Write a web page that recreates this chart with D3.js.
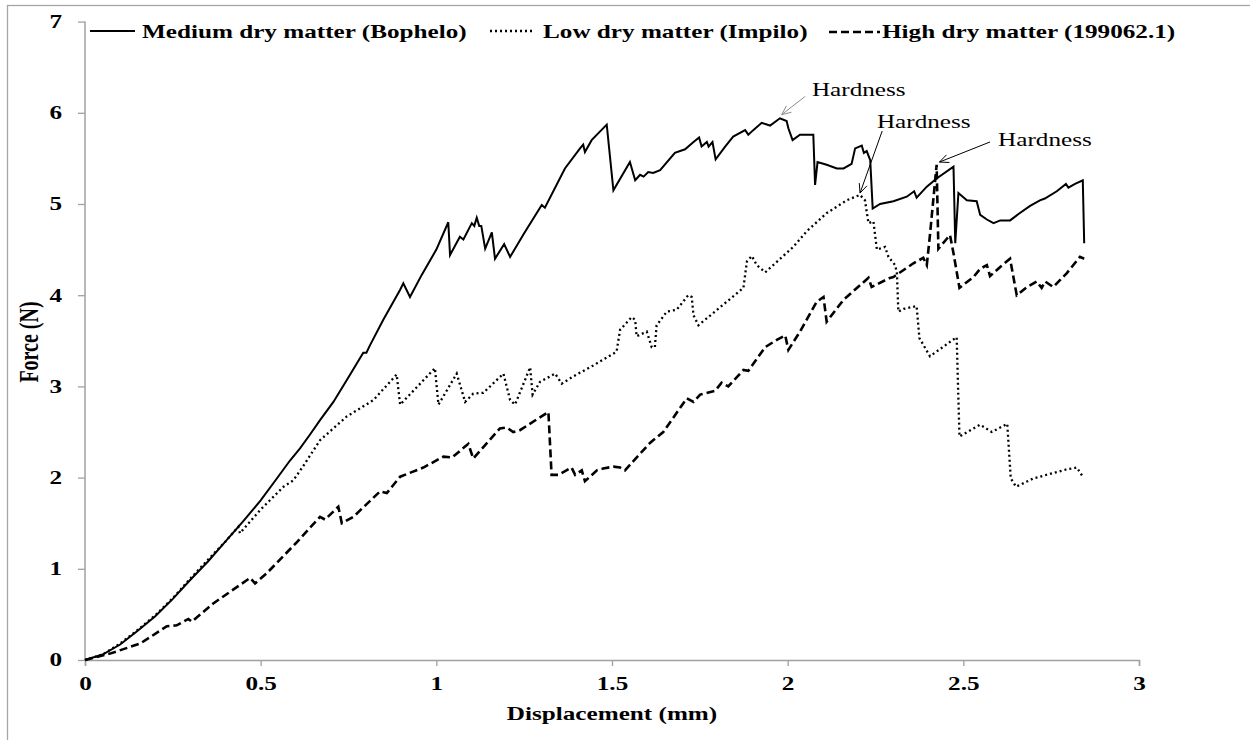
<!DOCTYPE html>
<html><head><meta charset="utf-8">
<script src="https://cdn.jsdelivr.net/npm/d3@7/dist/d3.min.js"></script>
<style>body{margin:0;background:#fff}svg{display:block}</style>
</head><body>
<script>
const seriesNames = ["Medium dry matter (Bophelo)", "Low dry matter (Impilo)", "High dry matter (199062.1)"];
const xTicks = [0, 0.5, 1, 1.5, 2, 2.5, 3];
const yTicks = [0, 1, 2, 3, 4, 5, 6, 7];
const xTickLabels = ["0", "0.5", "1", "1.5", "2", "2.5", "3"];
const yTickLabels = ["0", "1", "2", "3", "4", "5", "6", "7"];

const mediumX = [0,0.05,0.1,0.15,0.2,0.25,0.3,0.35,0.4,0.45,0.5,0.546,0.584,0.612,0.64,0.669,0.707,0.75,0.792,0.801,0.811,0.849,0.897,0.906,0.925,0.958,1.0,1.034,1.039,1.067,1.077,1.101,1.108,1.115,1.122,1.128,1.139,1.158,1.167,1.193,1.21,1.25,1.3,1.309,1.366,1.409,1.418,1.423,1.442,1.485,1.504,1.551,1.566,1.58,1.59,1.603,1.617,1.637,1.679,1.708,1.732,1.748,1.755,1.77,1.775,1.786,1.795,1.822,1.845,1.879,1.888,1.902,1.926,1.95,1.978,1.997,2.002,2.014,2.035,2.073,2.078,2.085,2.111,2.14,2.159,2.182,2.192,2.211,2.217,2.225,2.235,2.242,2.263,2.301,2.339,2.36,2.367,2.396,2.424,2.472,2.477,2.486,2.51,2.538,2.548,2.567,2.586,2.605,2.633,2.657,2.69,2.718,2.732,2.766,2.792,2.799,2.818,2.84,2.844];
const mediumY = [0,0.06,0.17,0.32,0.48,0.67,0.88,1.08,1.3,1.52,1.75,1.99,2.19,2.32,2.47,2.63,2.83,3.1,3.37,3.37,3.45,3.73,4.06,4.13,3.98,4.22,4.5,4.8,4.44,4.64,4.61,4.79,4.76,4.85,4.76,4.76,4.51,4.69,4.4,4.56,4.42,4.68,4.99,4.96,5.39,5.61,5.65,5.57,5.7,5.87,5.15,5.46,5.26,5.32,5.3,5.35,5.34,5.37,5.56,5.6,5.68,5.73,5.63,5.68,5.63,5.68,5.49,5.63,5.74,5.81,5.76,5.81,5.89,5.86,5.94,5.91,5.83,5.7,5.76,5.76,5.21,5.46,5.43,5.39,5.39,5.44,5.61,5.64,5.56,5.58,5.48,4.95,5.0,5.03,5.08,5.14,5.07,5.19,5.28,5.41,4.57,5.12,5.04,5.03,4.88,4.83,4.79,4.82,4.82,4.89,4.98,5.04,5.06,5.14,5.22,5.18,5.22,5.26,4.57];

const lowX = [0,0.05,0.1,0.15,0.2,0.25,0.304,0.35,0.4,0.436,0.441,0.5,0.565,0.593,0.62,0.669,0.745,0.821,0.887,0.897,0.954,0.996,1.006,1.058,1.082,1.105,1.134,1.191,1.21,1.224,1.267,1.274,1.295,1.338,1.357,1.39,1.447,1.513,1.523,1.556,1.566,1.57,1.599,1.613,1.622,1.627,1.656,1.684,1.717,1.727,1.732,1.746,1.874,1.884,1.898,1.912,1.936,2.016,2.054,2.111,2.168,2.206,2.22,2.23,2.244,2.254,2.277,2.287,2.306,2.311,2.315,2.33,2.367,2.375,2.405,2.481,2.489,2.548,2.581,2.625,2.635,2.65,2.699,2.794,2.823,2.84];
const lowY = [0,0.06,0.18,0.33,0.49,0.68,0.91,1.1,1.3,1.46,1.39,1.65,1.9,1.97,2.12,2.41,2.67,2.85,3.13,2.8,3.03,3.2,2.8,3.14,2.83,2.92,2.93,3.14,2.85,2.8,3.21,2.91,3.05,3.14,3.03,3.11,3.23,3.38,3.62,3.76,3.73,3.55,3.6,3.43,3.43,3.67,3.82,3.84,4.0,3.98,3.78,3.67,4.08,4.37,4.43,4.33,4.25,4.53,4.7,4.9,5.04,5.1,5.04,4.79,4.81,4.5,4.53,4.42,4.33,4.24,3.82,3.85,3.88,3.53,3.33,3.54,2.45,2.58,2.5,2.59,1.99,1.9,1.99,2.09,2.11,2.01];

const highX = [0,0.071,0.157,0.233,0.261,0.294,0.304,0.365,0.47,0.484,0.517,0.6,0.669,0.683,0.721,0.731,0.764,0.84,0.859,0.897,0.963,1.02,1.045,1.091,1.105,1.181,1.2,1.219,1.238,1.319,1.328,1.347,1.385,1.395,1.414,1.423,1.457,1.475,1.504,1.523,1.537,1.551,1.608,1.646,1.713,1.732,1.751,1.793,1.812,1.831,1.874,1.888,1.936,1.969,1.993,2.002,2.035,2.083,2.102,2.111,2.159,2.23,2.239,2.291,2.301,2.358,2.386,2.396,2.405,2.424,2.429,2.462,2.472,2.489,2.529,2.548,2.567,2.576,2.605,2.633,2.652,2.681,2.709,2.723,2.733,2.756,2.794,2.832,2.844];
const highY = [0,0.07,0.18,0.37,0.38,0.45,0.42,0.62,0.9,0.84,0.95,1.28,1.57,1.54,1.68,1.5,1.57,1.85,1.83,2.01,2.11,2.23,2.22,2.37,2.21,2.54,2.55,2.5,2.52,2.72,2.03,2.03,2.11,2.03,2.08,1.96,2.08,2.1,2.12,2.11,2.08,2.14,2.38,2.5,2.87,2.83,2.91,2.95,3.04,3.0,3.18,3.17,3.43,3.51,3.56,3.4,3.6,3.93,3.98,3.71,3.95,4.19,4.09,4.19,4.2,4.35,4.41,4.33,4.66,5.43,4.51,4.66,4.46,4.08,4.2,4.29,4.33,4.21,4.31,4.4,4.0,4.09,4.15,4.08,4.15,4.09,4.24,4.42,4.4];

const annotationText = ["Hardness", "Hardness", "Hardness"];
const annotationPeakX = [1.983, 2.206, 2.432];
const annotationPeakY = [5.98, 5.12, 5.46];
const annotationTailX = [2.050, 2.269, 2.576];
const annotationTailY = [6.18, 5.80, 5.68];
const annotationLabelX = [2.069, 2.254, 2.599];
const annotationLabelY = [6.18, 5.83, 5.64];

const W = 1250, H = 740;
const SX = 1.4; // horizontal stretch of the original text
const FONT = "'Liberation Serif','Times New Roman',serif";

const svg = d3.select("body").append("svg").attr("width", W).attr("height", H);

// outer frame (only top and left edges visible)
svg.append("rect").attr("x", 7.5).attr("y", 5.5).attr("width", 1400).attr("height", 900)
  .attr("fill", "none").attr("stroke", "#a6a6a6").attr("stroke-width", 1.3);

const x = d3.scaleLinear().domain([0, 3]).range([85, 1139]);
const y = d3.scaleLinear().domain([0, 7]).range([660, 21.6]);

const axisColor = "#a0a0a0";

// X axis
const gx = svg.append("g").attr("transform", `translate(0,${y(0)})`)
  .call(d3.axisBottom(x).tickValues(xTicks).tickSizeOuter(0).tickSize(6)
    .tickFormat((d, i) => xTickLabels[i]));
gx.select(".domain").attr("stroke", axisColor).attr("stroke-width", 1.5);
gx.selectAll(".tick line").attr("stroke", axisColor).attr("stroke-width", 1.3);
gx.selectAll(".tick text").attr("y", 30.5).attr("dy", 0)
  .attr("transform", `scale(${SX},1)`)
  .attr("font-family", FONT).attr("font-weight", "bold").attr("font-size", 18).attr("fill", "#000");

// Y axis
const gy = svg.append("g").attr("transform", `translate(${x(0)},0)`)
  .call(d3.axisLeft(y).tickValues(yTicks).tickSizeOuter(0).tickSize(7)
    .tickFormat((d, i) => yTickLabels[i]));
gy.select(".domain").attr("stroke", axisColor).attr("stroke-width", 1.5);
gy.selectAll(".tick line").attr("stroke", axisColor).attr("stroke-width", 1.3);
gy.selectAll(".tick text").attr("x", -23 / SX).attr("dy", "0.33em")
  .attr("transform", `scale(${SX},1)`)
  .attr("font-family", FONT).attr("font-weight", "bold").attr("font-size", 18).attr("fill", "#000");
gy.selectAll(".domain").attr("d", `M0,${y(0)}V${y(7)}`);

// Axis titles
svg.append("g").attr("transform", `translate(${x(1.5)},720) scale(${SX},1)`)
  .append("text").attr("text-anchor", "middle")
  .attr("font-family", FONT).attr("font-weight", "bold").attr("font-size", 18)
  .text("Displacement (mm)");
svg.append("g").attr("transform", `translate(38,342) scale(${SX},1) rotate(-90)`)
  .append("text").attr("text-anchor", "middle")
  .attr("font-family", FONT).attr("font-weight", "bold").attr("font-size", 20)
  .text("Force (N)");

// Series
const styles = [
  {dash: null, width: 2},
  {dash: "2,3", width: 2.3},
  {dash: "8,4", width: 2.6}
];
const seriesX = [mediumX, lowX, highX];
const seriesY = [mediumY, lowY, highY];
const line = d3.line().x(d => x(d[0])).y(d => y(d[1]));
seriesX.forEach((xs, i) => {
  const pts = xs.map((v, j) => [v, seriesY[i][j]]);
  svg.append("path").datum(pts).attr("d", line)
    .attr("fill", "none").attr("stroke", "#000")
    .attr("stroke-width", styles[i].width)
    .attr("stroke-linejoin", "miter")
    .attr("stroke-dasharray", styles[i].dash);
});

// Legend
const legendItems = [
  {x1: 90, x2: 135, ly: 31, tx: 142},
  {x1: 490, x2: 533, ly: 31, tx: 543},
  {x1: 829, x2: 880, ly: 32, tx: 882}
];
legendItems.forEach((l, i) => {
  svg.append("line").attr("x1", l.x1).attr("x2", l.x2).attr("y1", l.ly).attr("y2", l.ly)
    .attr("stroke", "#000").attr("stroke-width", styles[i].width)
    .attr("stroke-dasharray", styles[i].dash);
  svg.append("g").attr("transform", `translate(${l.tx},37.5) scale(${SX},1)`)
    .append("text").attr("font-family", FONT).attr("font-weight", "bold").attr("font-size", 18)
    .text(seriesNames[i]);
});

// Annotations
const arrowColors = ["#8c8c8c", "#000", "#000"];
annotationText.forEach((t, i) => {
  const x0 = x(annotationTailX[i]), y0 = y(annotationTailY[i]);
  const x1 = x(annotationPeakX[i]), y1 = y(annotationPeakY[i]);
  svg.append("line").attr("x1", x0).attr("y1", y0).attr("x2", x1).attr("y2", y1)
    .attr("stroke", arrowColors[i]).attr("stroke-width", 1);
  const ang = Math.atan2(y0 - y1, x0 - x1);
  const L = 10, a = 0.42;
  const p1 = [x1 + L * Math.cos(ang + a), y1 + L * Math.sin(ang + a)];
  const p2 = [x1 + L * Math.cos(ang - a), y1 + L * Math.sin(ang - a)];
  svg.append("path").attr("d", `M${p1[0]},${p1[1]}L${x1},${y1}L${p2[0]},${p2[1]}`)
    .attr("fill", "none").attr("stroke", arrowColors[i]).attr("stroke-width", 1);
  svg.append("g").attr("transform", `translate(${x(annotationLabelX[i])},${y(annotationLabelY[i])}) scale(${SX},1)`)
    .append("text").attr("font-family", FONT).attr("font-size", 18).attr("fill", "#000")
    .text(t);
});
</script>
</body></html>
